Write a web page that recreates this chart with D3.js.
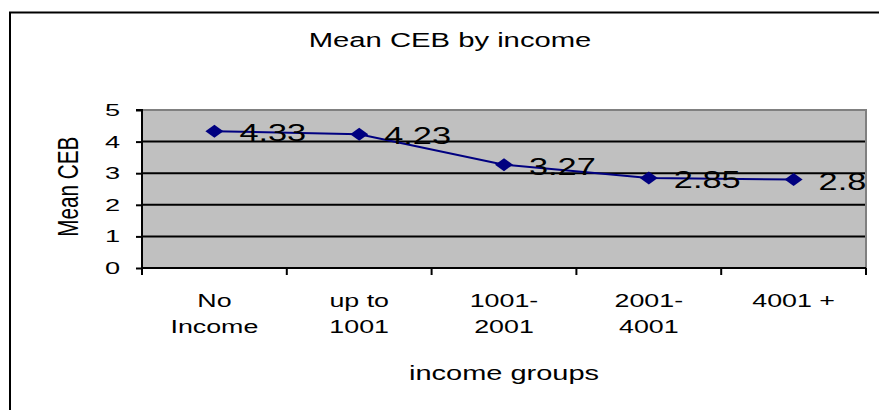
<!DOCTYPE html>
<html>
<head>
<meta charset="utf-8">
<script src="https://cdn.jsdelivr.net/npm/d3@7"></script>
<style>
  html, body { margin: 0; padding: 0; background: #fff; }
  svg { display: block; }
  text { font-family: "Liberation Sans", Arial, sans-serif; fill: #000; }
</style>
</head>
<body>
<svg id="chart" width="879" height="410"></svg>
<script>
// Mean children ever born (CEB) per income group
const categories = [["No", "Income"], ["up to", "1001"], ["1001-", "2001"], ["2001-", "4001"], ["4001 +"]];
const meanCEB = [4.33, 4.23, 3.27, 2.85, 2.8];
const yTicks = [0, 1, 2, 3, 4, 5];

const chartTitle = "Mean CEB by income";
const xTitle = "income groups";
const yTitle = "Mean CEB";

const W = 879, H = 410;
const plot = { left: 142, right: 866, top: 110, bottom: 268 };
const SX = 1.45; // horizontal stretch of the lettering

const svg = d3.select("#chart");

// outer chart frame
svg.append("rect")
  .attr("x", 10).attr("y", 12.5)
  .attr("width", 900).attr("height", 450)
  .attr("fill", "#fff").attr("stroke", "#000").attr("stroke-width", 2);

const x = d3.scaleBand().domain(d3.range(categories.length)).range([plot.left, plot.right]);
const y = d3.scaleLinear().domain([0, 5]).range([plot.bottom, plot.top]);

// stretched text helper
function label(g, tx, ty, str, size, anchor, sx = SX, rot = 0) {
  const grp = g.append("g").attr("transform", `translate(${tx},${ty}) scale(${sx},1)` + (rot ? ` rotate(${rot})` : ""));
  grp.append("text").attr("text-anchor", anchor).attr("font-size", size).text(str);
  return grp;
}

// plot area
svg.append("rect")
  .attr("x", plot.left).attr("y", plot.top)
  .attr("width", plot.right - plot.left).attr("height", plot.bottom - plot.top)
  .attr("fill", "#c0c0c0");

// gridlines
svg.append("g").selectAll("line").data(yTicks.filter(t => t > 0 && t < 5)).join("line")
  .attr("x1", plot.left).attr("x2", plot.right)
  .attr("y1", d => y(d)).attr("y2", d => y(d))
  .attr("stroke", "#000").attr("stroke-width", 2);

// plot border (top/right)
svg.append("path")
  .attr("d", `M${plot.left},${plot.top}H${plot.right}V${plot.bottom}`)
  .attr("fill", "none").attr("stroke", "#808080").attr("stroke-width", 2);

// y axis
const yAxis = svg.append("g").attr("transform", `translate(${plot.left},0)`)
  .call(d3.axisLeft(y).tickValues(yTicks).tickSize(6).tickFormat(""));
yAxis.select(".domain").attr("stroke-width", 2).attr("d", `M-6,${plot.top}H0V${plot.bottom}`);
yAxis.selectAll(".tick line").attr("stroke-width", 2);
yTicks.forEach(t => label(svg, 120, y(t) + 6, String(t), 17, "end", 1.6));

// x axis with ticks on category boundaries
const xAxis = svg.append("g").attr("transform", `translate(0,${plot.bottom})`)
  .call(d3.axisBottom(x).tickSize(0).tickFormat(""));
xAxis.select(".domain").attr("stroke-width", 2).attr("d", `M${plot.left},0H${plot.right}`);
const bounds = d3.range(categories.length + 1).map(i => i < categories.length ? x(i) : x(i - 1) + x.bandwidth());
xAxis.selectAll(".bound").data(bounds).join("line").attr("class", "bound")
  .attr("x1", d => d).attr("x2", d => d).attr("y1", 0).attr("y2", 7)
  .attr("stroke", "#000").attr("stroke-width", 2);

categories.forEach((lines, i) => {
  const cx = x(i) + x.bandwidth() / 2;
  lines.forEach((ln, j) => label(svg, cx, 306.5 + j * 26.7, ln, 18.5, "middle"));
});

// series line and diamond markers
const cxOf = i => x(i) + x.bandwidth() / 2;
svg.append("path")
  .datum(meanCEB)
  .attr("d", d3.line().x((d, i) => cxOf(i)).y(d => y(d)))
  .attr("fill", "none").attr("stroke", "#000080").attr("stroke-width", 2);

svg.append("g").selectAll("path").data(meanCEB).join("path")
  .attr("transform", (d, i) => `translate(${cxOf(i)},${y(d)})`)
  .attr("d", "M-9,0L0,-6.5L9,0L0,6.5Z")
  .attr("fill", "#000080");

// value labels
meanCEB.forEach((v, i) => label(svg, cxOf(i) + 25, y(v) + 10, String(v), 24, "start", 1.43));

// titles
label(svg, 450, 46.5, chartTitle, 19.5, "middle", 1.5);
label(svg, 504, 380, xTitle, 20, "middle", 1.45);
label(svg, 78, 186.7, yTitle, 20.7, "middle", 1.45, -90);
</script>
</body>
</html>
